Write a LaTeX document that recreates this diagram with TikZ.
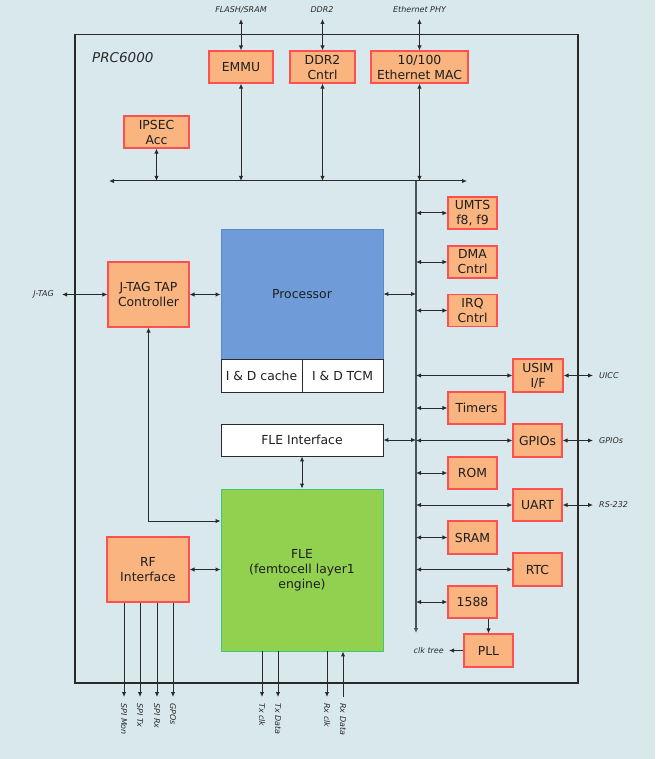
\documentclass[tikz,border=0pt]{standalone}
\usepackage{fontspec}
\setmainfont{DejaVu Sans}
\usetikzlibrary{arrows.meta}
\definecolor{bgc}{HTML}{D9E8EC}
\definecolor{orfill}{HTML}{F9B47F}
\definecolor{orline}{HTML}{FF4F4F}
\definecolor{blfill}{HTML}{6F9CD9}
\definecolor{blline}{HTML}{5A88CC}
\definecolor{grfill}{HTML}{92D050}
\definecolor{grline}{HTML}{3CC77A}
\definecolor{lnc}{HTML}{2A2A2A}
\definecolor{busc}{HTML}{4A5256}
\definecolor{txt}{HTML}{1E1E1E}
\newcommand{\boxfont}{\fontsize{12.4}{15}\selectfont}
\newcommand{\extfont}{\fontsize{8}{9}\selectfont\itshape}
\tikzset{
  obox/.style={draw=orline, fill=orfill, line width=1.2pt, text=txt, font=\boxfont, align=center, inner sep=0pt},
  wbox/.style={draw=lnc, fill=white, line width=0.9pt, text=txt, font=\boxfont, align=center, inner sep=0pt},
  ext/.style={text=lnc, font=\extfont, inner sep=0pt},
  ln/.style={draw=lnc, line width=1pt},
  biarr/.style={ln, {Latex[length=5pt,width=4.5pt]}-{Latex[length=5pt,width=4.5pt]}},
  arr/.style={ln, -{Latex[length=5pt,width=4.5pt]}},
  busln/.style={draw=busc, line width=1.4pt},
}
\begin{document}
\begin{tikzpicture}[x=1pt,y=-1pt]
\fill[bgc] (0,0) rectangle (655,759);
\useasboundingbox (0,0) rectangle (655,759);

% chip outline
\node[draw=lnc, line width=1.5pt, minimum width=503pt, minimum height=648.5pt, inner sep=0pt] (chip) at (326.5,358.75) {};
\node[text=lnc, font=\fontsize{13.5}{16}\selectfont\itshape, anchor=west, inner sep=0pt] (chipname) at (92,58) {PRC6000};

% top blocks
\node[obox, minimum width=64pt, minimum height=32pt] (emmu) at (241,67) {EMMU};
\node[obox, minimum width=65pt, minimum height=32pt] (ddr) at (322.5,67) {DDR2\\Cntrl};
\node[obox, minimum width=97pt, minimum height=32pt] (eth) at (419.5,67) {10/100\\Ethernet MAC};
\node[obox, minimum width=65pt, minimum height=32pt] (ipsec) at (156.5,132) {IPSEC\\Acc};

% right column
\node[obox, minimum width=49pt, minimum height=32pt] (umts) at (472.5,213) {UMTS\\f8, f9};
\node[obox, minimum width=49pt, minimum height=32pt] (dma) at (472.5,262) {DMA\\Cntrl};
\node[obox, minimum width=49pt, minimum height=32pt] (irq) at (472.5,310.5) {IRQ\\Cntrl};
\node[obox, minimum width=50pt, minimum height=33pt] (usim) at (538,375.5) {USIM\\I/F};
\node[obox, minimum width=57pt, minimum height=32pt] (timers) at (476.5,408) {Timers};
\node[obox, minimum width=49pt, minimum height=33pt] (gpios) at (537.5,440.5) {GPIOs};
\node[obox, minimum width=49pt, minimum height=32pt] (rom) at (472.5,473) {ROM};
\node[obox, minimum width=49pt, minimum height=32pt] (uart) at (537.5,505) {UART};
\node[obox, minimum width=49pt, minimum height=33pt] (sram) at (472.5,537.5) {SRAM};
\node[obox, minimum width=49pt, minimum height=33pt] (rtc) at (537.5,569.5) {RTC};
\node[obox, minimum width=49pt, minimum height=32pt] (b1588) at (472.5,602) {1588};
\node[obox, minimum width=49pt, minimum height=33pt] (pll) at (488.5,650.5) {PLL};

% left blocks
\node[obox, minimum width=81pt, minimum height=65pt] (jtag) at (148.5,294.5) {J-TAG TAP\\Controller};
\node[obox, minimum width=82pt, minimum height=65pt] (rf) at (148,569.5) {RF\\Interface};

% processor
\node[draw=blline, fill=blfill, line width=0.9pt, minimum width=162pt, minimum height=130pt, inner sep=0pt, text=txt, font=\boxfont] (proc) at (302,294) {Processor};
\node[wbox, minimum width=81pt, minimum height=33pt] (cache) at (261.5,375.5) {I \& D cache};
\node[wbox, minimum width=81pt, minimum height=33pt] (tcm) at (342.5,375.5) {I \& D TCM};
\node[wbox, minimum width=162pt, minimum height=32pt] (fleif) at (302,440) {FLE Interface};
\node[draw=grline, fill=grfill, line width=0.9pt, minimum width=162pt, minimum height=162pt, inner sep=0pt, text=txt, font=\boxfont, align=center] (fle) at (302,570) {FLE\\(femtocell layer1\\engine)};

% buses
\coordinate (hbL) at (109,181);
\coordinate (hbR) at (467,181);
\coordinate (vbT) at (416,181);
\coordinate (vbB) at (416,633);
\draw[biarr] (hbL) -- (hbR);
\draw[busln, -{Latex[length=5pt,width=4.5pt]}] (vbT) -- (vbB);

% top connections
\draw[biarr] (ipsec.south) -- (ipsec.south |- hbL);
\draw[biarr] (emmu.south) -- (emmu.south |- hbL);
\draw[biarr] (ddr.south) -- (ddr.south |- hbL);
\draw[biarr] (eth.south) -- (eth.south |- hbL);

% external top
\node[ext] (flashL) at (241,10) {FLASH/SRAM};
\node[ext] (ddrL) at (322,10) {DDR2};
\node[ext] (phyL) at (419.5,10) {Ethernet PHY};
\coordinate (flashE) at (241,19);
\coordinate (ddrE) at (322.5,19);
\coordinate (phyE) at (419.5,19);
\draw[biarr] (flashE) -- (emmu.north);
\draw[biarr] (ddrE) -- (ddr.north);
\draw[biarr] (phyE) -- (eth.north);

% right bus connections
\draw[biarr] (umts.west -| vbT) -- (umts.west);
\draw[biarr] (dma.west -| vbT) -- (dma.west);
\draw[biarr] (irq.west -| vbT) -- (irq.west);
\draw[biarr] (usim.west -| vbT) -- (usim.west);
\draw[biarr] (timers.west -| vbT) -- (timers.west);
\draw[biarr] (gpios.west -| vbT) -- (gpios.west);
\draw[biarr] (rom.west -| vbT) -- (rom.west);
\draw[biarr] (uart.west -| vbT) -- (uart.west);
\draw[biarr] (sram.west -| vbT) -- (sram.west);
\draw[biarr] (rtc.west -| vbT) -- (rtc.west);
\draw[biarr] (b1588.west -| vbT) -- (b1588.west);
\draw[arr] (b1588.south -| pll.north) -- (pll.north);

% processor / FLE interface to bus
\draw[biarr] (proc.east) -- (proc.east -| vbT);
\draw[biarr] (fleif.east) -- (fleif.east -| vbT);

% external right
\coordinate (uiccE) at (593,375.5);
\coordinate (gpioE) at (593,440.5);
\coordinate (rsE) at (593,505);
\draw[biarr] (usim.east) -- (uiccE);
\draw[biarr] (gpios.east) -- (gpioE);
\draw[biarr] (uart.east) -- (rsE);
\node[ext, anchor=west] (uiccL) at (599,375.5) {UICC};
\node[ext, anchor=west] (gpioL) at (599,440.5) {GPIOs};
\node[ext, anchor=west] (rsL) at (599,505) {RS-232};

% clk tree
\coordinate (clkE) at (449,650.5);
\draw[arr] (pll.west) -- (clkE);
\node[ext, anchor=east] (clkL) at (444,650.5) {clk tree};

% J-TAG
\coordinate (jtagE) at (62,294.5);
\draw[biarr] (jtagE) -- (jtag.west);
\node[ext, anchor=east] (jtagL) at (54,294.5) {J-TAG};
\draw[biarr] (jtag.east) -- (jtag.east -| proc.west);
\draw[biarr] (jtag.south) |- (fle.west |- 0,521);

% FLE connections
\draw[biarr] (fleif.south) -- (fle.north);
\draw[biarr] (rf.east) -- (rf.east -| fle.west);

% bottom signals
\coordinate (spiM) at (124,697);
\coordinate (spiT) at (140,697);
\coordinate (spiR) at (157,697);
\coordinate (gpo) at (173,697);
\coordinate (txC) at (262,697);
\coordinate (txD) at (278,697);
\coordinate (rxC) at (327,697);
\coordinate (rxD) at (343,697);
\draw[arr] (rf.south -| spiM) -- (spiM);
\draw[arr] (rf.south -| spiT) -- (spiT);
\draw[arr] (rf.south -| spiR) -- (spiR);
\draw[arr] (rf.south -| gpo) -- (gpo);
\draw[arr] (fle.south -| txC) -- (txC);
\draw[arr] (fle.south -| txD) -- (txD);
\draw[arr] (fle.south -| rxC) -- (rxC);
\draw[arr] (rxD) -- (fle.south -| rxD);
\node[ext, rotate=-90, anchor=west] (spiML) at (124,703) {SPI Mon};
\node[ext, rotate=-90, anchor=west] (spiTL) at (140,703) {SPI Tx};
\node[ext, rotate=-90, anchor=west] (spiRL) at (157,703) {SPI Rx};
\node[ext, rotate=-90, anchor=west] (gpoL) at (173,703) {GPOs};
\node[ext, rotate=-90, anchor=west] (txCL) at (262,703) {Tx clk};
\node[ext, rotate=-90, anchor=west] (txDL) at (278,703) {Tx Data};
\node[ext, rotate=-90, anchor=west] (rxCL) at (327,703) {Rx clk};
\node[ext, rotate=-90, anchor=west] (rxDL) at (343,703) {Rx Data};
\end{tikzpicture}
\end{document}
